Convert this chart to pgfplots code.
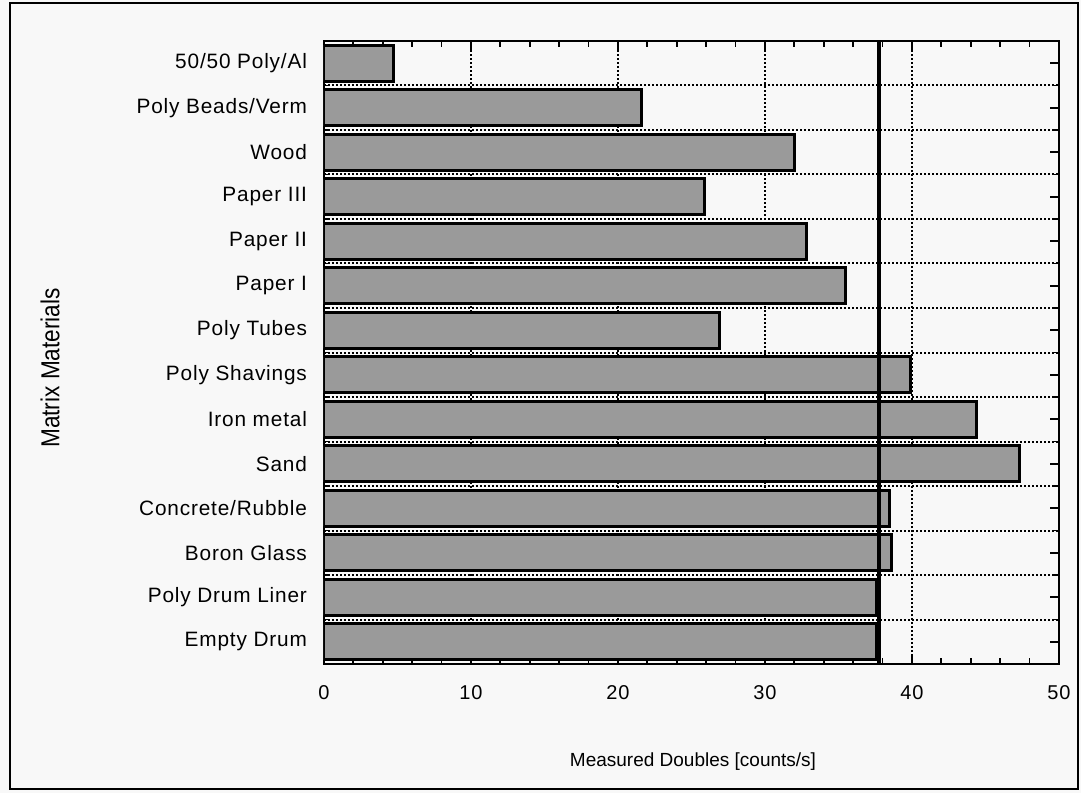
\documentclass[border=0pt]{standalone}
\usepackage{pgfplots}
\pgfplotsset{compat=1.18}
\usepackage{fontspec}
\setmainfont{Liberation Sans}
\newfontfamily\widefont[LetterSpace=4]{Liberation Sans}
\definecolor{paper}{HTML}{F8F8F8}
\definecolor{barfill}{HTML}{9A9A9A}

\begin{document}
\begin{tikzpicture}
\path[use as bounding box, fill=paper] (-162pt,-64.5pt) rectangle (378.5pt,332pt);
\draw[line width=1.4pt] (-157pt,-62.5pt) rectangle (377pt,330.5pt);
\begin{axis}[
  at={(0pt,0pt)}, anchor=south west,
  scale only axis, width=367.5pt, height=311.5pt,
  xmin=0, xmax=50, ymin=-0.5, ymax=13.5,
  xtick={0,10,...,50}, minor xtick={2,4,...,48},
  ytick={0,...,13},
  yticklabels={Empty Drum, Poly Drum Liner, Boron Glass, Concrete/Rubble,
    Sand, Iron metal, Poly Shavings, Poly Tubes, Paper I, Paper II,
    Paper III, Wood, Poly Beads/Verm, 50/50 Poly/Al},
  minor ytick={0.5,1.5,...,12.5},
  tick align=inside,
  major tick length=4.5pt, minor tick length=3pt,
  every tick/.style={black, line width=0.9pt},
  axis line style={line width=1.2pt},
  xmajorgrids, yminorgrids,
  major grid style={black, line width=1pt, dash pattern=on 1pt off 1pt},
  minor grid style={black, line width=1pt, dash pattern=on 1pt off 1pt},
  /pgf/number format/assume math mode=true,
  xticklabel style={font=\widefont\fontsize{10}{12}\selectfont, yshift=-7pt},
  yticklabel style={font=\widefont\fontsize{10.4}{12}\selectfont, xshift=-5pt},
]
\addplot[xbar, bar width=0.82, fill=barfill, draw=black, line width=1.5pt]
  coordinates {
    (37.6,0) (37.6,1) (38.6,2) (38.5,3) (47.3,4) (44.4,5) (39.9,6)
    (26.9,7) (35.5,8) (32.8,9) (25.9,10) (32.0,11) (21.6,12) (4.7,13)
  };
\addplot[black, line width=2.4pt] coordinates {(37.75,-0.5) (37.75,13.5)};
\end{axis}
\node[rotate=90, font=\fontsize{13}{15}\selectfont] at (-137pt,148pt)
  {\scalebox{0.87}[1]{Matrix Materials}};
\node[font=\fontsize{9.5}{11}\selectfont] at (184.5pt,-49pt)
  {Measured Doubles [counts/s]};
\end{tikzpicture}
\end{document}
